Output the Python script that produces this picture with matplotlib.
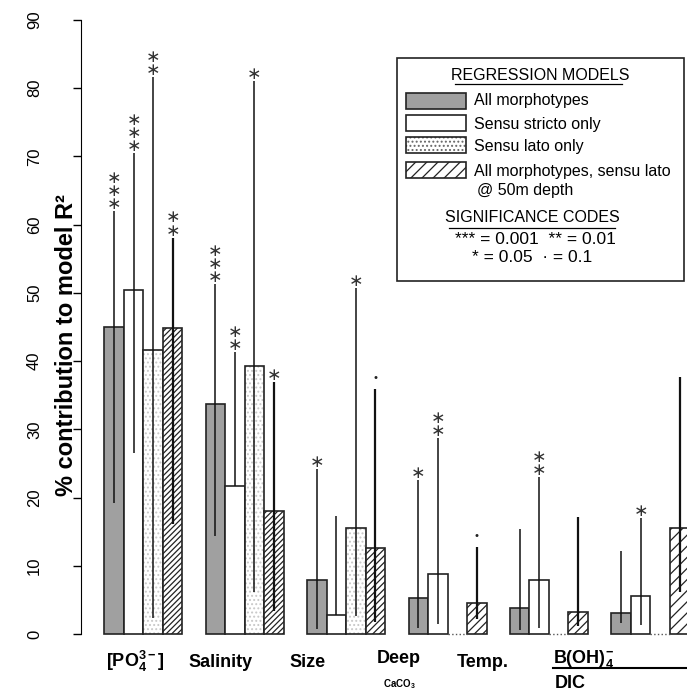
import numpy as np
import matplotlib
matplotlib.use('Agg')
import matplotlib.pyplot as plt
from matplotlib.patches import Rectangle
from matplotlib.transforms import Affine2D

plt.rcParams['font.family'] = ['Liberation Sans', 'DejaVu Sans']
plt.rcParams['mathtext.fontset'] = 'custom'
plt.rcParams['mathtext.rm'] = 'Liberation Sans'
plt.rcParams['mathtext.bf'] = 'Liberation Sans:bold'
plt.rcParams['hatch.linewidth'] = 0.9

# данные: вклад предикторов в R^2 моделей (%)
predictors = [r'$\mathbf{[PO_4^{3-}]}$', 'Salinity', 'Size', 'Deep', 'Temp.', r'$\mathbf{B(OH)_4^{-}}$']
series = ['All morphotypes', 'Sensu stricto only', 'Sensu lato only',
          'All morphotypes, sensu lato\n@ 50m depth']

all_morph = [45.0, 33.7, 7.9, 5.3, 3.8, 3.1]
stricto = [50.4, 21.7, 2.8, 8.8, 7.9, 5.6]
lato = [41.6, 39.3, 15.5, 0.0, 0.0, 0.0]
depth50 = [44.8, 18.0, 12.6, 4.6, 3.2, 15.5]

all_lo = [19.2, 14.3, 0.7, 0.9, 0.6, 1.6]
all_hi = [62.0, 51.3, 24.2, 22.6, 15.4, 12.1]
stricto_lo = [26.6, 21.7, 2.8, 1.4, 0.9, 1.3]
stricto_hi = [70.5, 41.3, 17.3, 28.7, 23.0, 17.0]
lato_lo = [2.3, 6.1, 2.6, np.nan, np.nan, np.nan]
lato_hi = [81.6, 81.1, 50.7, np.nan, np.nan, np.nan]
depth_lo = [16.1, 3.3, 1.8, 2.2, 1.2, 6.1]
depth_hi = [58.1, 36.9, 35.9, 12.8, 17.2, 37.7]

all_sig = ['***', '***', '*', '*', '', '']
stricto_sig = ['***', '**', '', '**', '**', '*']
lato_sig = ['**', '*', '*', '', '', '']
depth_sig = ['**', '*', '.', '.', '', '']

values = [all_morph, stricto, lato, depth50]
lows = [all_lo, stricto_lo, lato_lo, depth_lo]
highs = [all_hi, stricto_hi, lato_hi, depth_hi]
sigs = [all_sig, stricto_sig, lato_sig, depth_sig]

W, H = 687, 692
fig = plt.figure(figsize=(W / 100, H / 100), dpi=100)
ax = fig.add_axes([81 / W, (H - 634) / H, 1 - 81 / W, (634 - 20) / H])
px = Affine2D().scale(1 / W, -1 / H).translate(0, 1) + fig.transFigure

step = 5.2
faces = ['#a0a0a0', 'white', 'white', 'white']
hatch_dens = ['//////', '//////', '/////', '////', '////', '///']
x0 = np.arange(len(predictors)) * step

for i in range(4):
    xc = x0 + i + 0.5
    v = np.array(values[i])
    for g in range(len(predictors)):
        if v[g] == 0:
            ax.plot([xc[g] - 0.5, xc[g] + 0.5], [0, 0], ':', color='#555555', lw=1, clip_on=False)
            continue
        if i == 2:
            ax.bar(xc[g], v[g], 1, color='white', edgecolor='#c8c8c8', hatch='....', lw=0, clip_on=False)
            ax.bar(xc[g], v[g], 1, color='none', edgecolor='#222222', lw=1.2, clip_on=False)
        elif i == 3:
            ax.bar(xc[g], v[g], 1, color='white', edgecolor='#222222', hatch=hatch_dens[g], lw=1.2, clip_on=False)
        else:
            ax.bar(xc[g], v[g], 1, color=faces[i], edgecolor='#222222', lw=1.2, clip_on=False)
    lw = 1.6 if i == 3 else 1.1
    ax.vlines(xc, lows[i], highs[i], color='#111111', lw=lw, clip_on=False)
    for g, s in enumerate(sigs[i]):
        if s == '.':
            ax.annotate('•', (xc[g], highs[i][g]), xytext=(0, 8), textcoords='offset points',
                        ha='center', va='center', fontsize=8, color='#222222')
        elif s:
            # звёздочки значимости стопкой
            ax.annotate('\n'.join('∗' * len(s)), (xc[g], highs[i][g]), xytext=(0, -1.5),
                        textcoords='offset points', ha='center', va='bottom', linespacing=0.66,
                        fontsize=12.5, family='DejaVu Sans', color='#333333')

ax.set_xlim(-1.195, 29.88)
ax.set_ylim(0, 90)
ax.set_yticks(np.arange(0, 91, 10))
ax.tick_params(axis='y', length=6, width=1, pad=22, labelsize=12, labelrotation=90)
for lab in ax.get_yticklabels():
    lab.set_va('center')
ax.set_xticks([])
for sp in ['top', 'right', 'bottom']:
    ax.spines[sp].set_visible(False)
ax.spines['left'].set_bounds(0, 90)
ax.set_facecolor('none')

fig.text(67, 345, '% contribution to model R²', transform=px, rotation=90,
         ha='center', va='center', fontsize=17, fontweight='bold')

# подписи групп
lab_x = [135, 221, 308, 399, 483]
lab_base = [667, 667, 667, 663, 667]
for g in range(5):
    fig.text(lab_x[g], lab_base[g], predictors[g], transform=px, ha='center', va='baseline',
             fontsize=13, fontweight='bold')
fig.text(399, 687, r'$\mathbf{CaCO_3}$', transform=px, ha='center', va='baseline', fontsize=7)
fig.text(553, 663, predictors[5], transform=px, ha='left', va='baseline', fontsize=13)
fig.text(555, 688, 'DIC', transform=px, ha='left', va='baseline', fontsize=13, fontweight='bold')
fig.add_artist(plt.Line2D([553, 700], [668, 668], transform=px, color='black', lw=1.5))

# легенда
fig.add_artist(Rectangle((397, 58), 287, 223, transform=px, fill=False, ec='#222222', lw=1.2))
fig.text(540, 75, 'REGRESSION MODELS', transform=px, ha='center', va='center', fontsize=11.5)
fig.add_artist(plt.Line2D([455, 622], [84, 84], transform=px, color='black', lw=0.9))
sw_y = [92.5, 114.5, 136.5, 161.5]
sw_lab_y = [100, 125, 146.7, 171.7]
for i in range(4):
    if i == 2:
        fig.add_artist(Rectangle((406, sw_y[i]), 60, 16, transform=px, fc='white', ec='#666666',
                                 hatch='....', lw=0))
        fig.add_artist(Rectangle((406, sw_y[i]), 60, 16, transform=px, fc='none', ec='#222222', lw=1.2))
    else:
        fig.add_artist(Rectangle((406, sw_y[i]), 60, 16, transform=px, fc=faces[i], ec='#222222',
                                 lw=1.2, hatch='///' if i == 3 else None))
    fig.text(474, sw_lab_y[i], series[i].split('\n')[0], transform=px, ha='left', va='center', fontsize=11.5)
fig.text(477, 190, series[3].split('\n')[1], transform=px, ha='left', va='center', fontsize=11.5)
fig.text(532, 218, 'SIGNIFICANCE CODES', transform=px, ha='center', va='center', fontsize=11.5)
fig.add_artist(plt.Line2D([449, 615], [228, 228], transform=px, color='black', lw=0.9))
fig.text(535, 239, '*** = 0.001  ** = 0.01', transform=px, ha='center', va='center', fontsize=12.5)
fig.text(532, 257, '* = 0.05  · = 0.1', transform=px, ha='center', va='center', fontsize=12.5)

fig.savefig('out.png', dpi=100)
